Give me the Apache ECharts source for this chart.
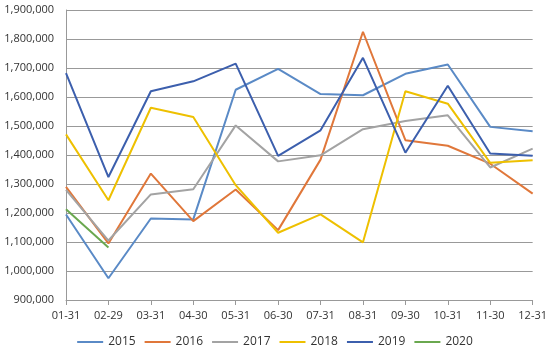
<!DOCTYPE html>
<html>
<head>
<meta charset="utf-8">
<script src="https://cdn.jsdelivr.net/npm/echarts@6/dist/echarts.min.js"></script>
<style>
  html, body { margin: 0; padding: 0; background: #fff; }
  #chart { width: 550px; height: 352px; }
</style>
</head>
<body>
<div id="chart"></div>
<script>
const categories = ['01-31', '02-29', '03-31', '04-30', '05-31', '06-30', '07-31', '08-31', '09-30', '10-31', '11-30', '12-31'];
const years = ['2015', '2016', '2017', '2018', '2019', '2020'];
const colors = ['#5a8ac6', '#e0773a', '#a3a3a3', '#eec000', '#3c5fad', '#6aa84f'];

const v2015 = [1195000, 975000, 1181000, 1178000, 1625000, 1697000, 1610000, 1606000, 1680000, 1712000, 1497000, 1482000];
const v2016 = [1290000, 1095000, 1336000, 1172000, 1281000, 1141000, 1384000, 1825000, 1451000, 1432000, 1370000, 1267000];
const v2017 = [1280000, 1105000, 1264000, 1282000, 1502000, 1378000, 1399000, 1489000, 1517000, 1537000, 1357000, 1422000];
const v2018 = [1471000, 1244000, 1563000, 1531000, 1296000, 1132000, 1195000, 1099000, 1620000, 1577000, 1373000, 1382000];
const v2019 = [1682000, 1324000, 1620000, 1654000, 1715000, 1397000, 1485000, 1735000, 1408000, 1639000, 1405000, 1397000];
const v2020 = [1213000, 1081000];

const values = [v2015, v2016, v2017, v2018, v2019, v2020];

const chart = echarts.init(document.getElementById('chart'));
const option = {
  animation: false,
  color: colors,
  grid: { left: 66, right: 17, top: 10, bottom: 52 },
  legend: {
    bottom: -1,
    left: 'center',
    icon: 'rect',
    itemWidth: 26,
    itemHeight: 2,
    itemGap: 9,
    data: years,
    textStyle: { color: '#333', fontSize: 12, fontFamily: 'Open Sans' }
  },
  xAxis: {
    type: 'category',
    boundaryGap: false,
    data: categories,
    axisLine: { lineStyle: { color: '#999' } },
    axisTick: { alignWithLabel: true, length: 5, lineStyle: { color: '#999' } },
    axisLabel: { color: '#333', fontSize: 11, margin: 10, fontFamily: 'Open Sans' }
  },
  yAxis: {
    type: 'value',
    min: 900000,
    max: 1900000,
    interval: 100000,
    axisLine: { show: true, lineStyle: { color: '#999' } },
    axisTick: { show: false },
    splitLine: { lineStyle: { color: '#999' } },
    axisLabel: {
      color: '#333',
      fontSize: 11,
      margin: 12,
      fontFamily: 'Open Sans',
      formatter: v => v.toLocaleString('en-US')
    }
  },
  series: years.map((y, i) => ({
    name: y,
    type: 'line',
    symbol: 'none',
    data: values[i],
    lineStyle: { width: 2 }
  }))
};
chart.setOption(option);
</script>
</body>
</html>
